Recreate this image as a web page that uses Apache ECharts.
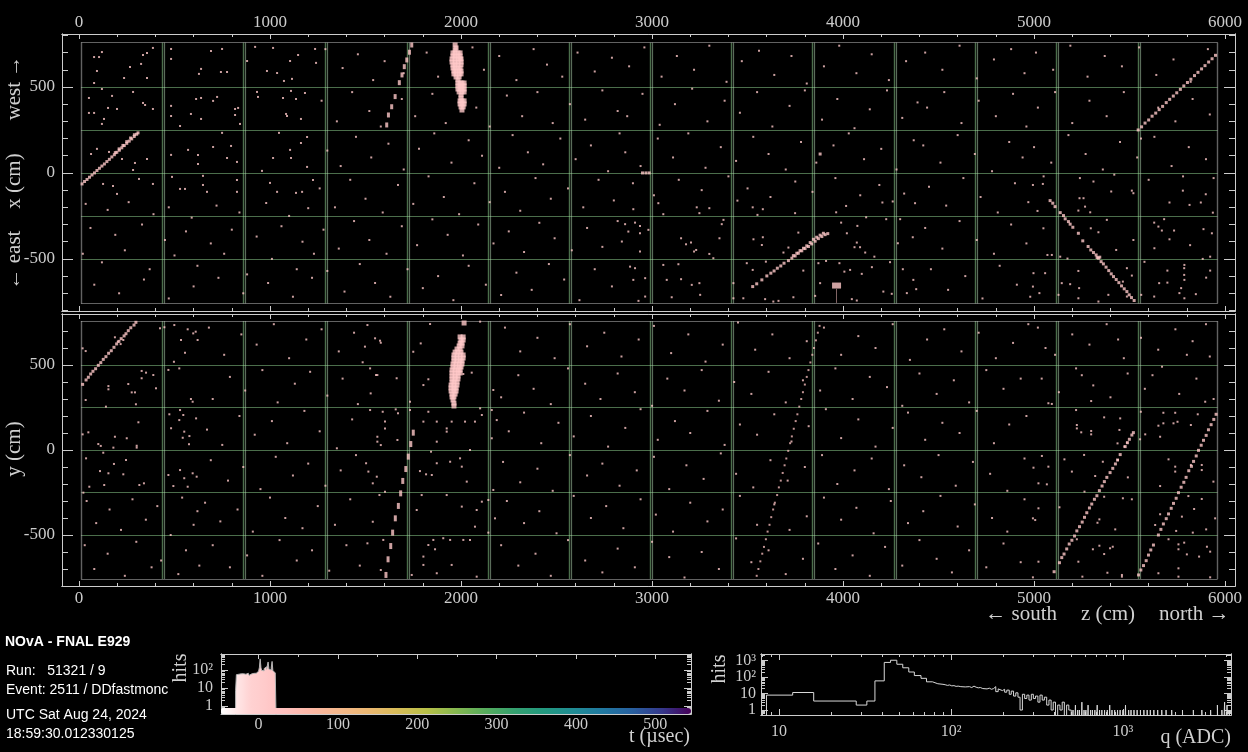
<!DOCTYPE html>
<html><head><meta charset="utf-8">
<script src="https://cdn.jsdelivr.net/npm/echarts@6/dist/echarts.min.js"></script>
<style>html,body{margin:0;padding:0;background:#000;}#c{width:1248px;height:752px;}</style>
</head><body><div id="c"></div>
<script>
// ================= DATA =================
// axis tick values
const zTickLabels = [0,1000,2000,3000,4000,5000,6000];
const xyTickLabels = [-500,0,500];
const tTickLabels = [0,100,200,300,400,500];
// detector geometry (cm)
const boxZ = [10, 5961];
const boxHalf = 759;
const planeBoundaryZ = [435,859,1288,1717,2141,2566,2990,3414,3838,4267,4691,5116,5545];
const cellGridLines = [-500,-250,0,250,500];

// ---- top view (x vs z): noise hits ----
const noiseXZ = [
[120,703],[79,674],[105,674],[335,686],[356,698],[387,727],[325,634],[267,616],[94,593],[236,552],[356,552],[79,523],[120,488],[283,471],[52,436],[173,448],[335,407],[346,395],[152,378],[199,372],[387,372],[52,349],[79,349],[131,314],[120,285],[94,140],[63,110],[157,122],[225,81],[293,58],[356,81],[283,17],[178,-76],[126,-64],[199,-122],[387,-64],[314,-35],
[482,721],[691,709],[749,721],[482,663],[639,605],[628,576],[743,587],[775,587],[613,430],[639,436],[702,419],[723,442],[482,390],[817,372],[833,378],[817,337],[586,343],[482,331],[639,314],[529,273],[843,285],[749,233],[796,157],[702,151],[482,105],[571,134],[623,105],[775,87],[827,64],[623,52],[649,-17],[487,-23],[529,-93],[555,-93],[649,-70],[670,-110],[827,-110],[827,-41],
[922,733],[1016,727],[1147,686],[1236,721],[880,651],[1105,651],[1241,640],[984,593],[1037,581],[1115,547],[1073,535],[932,471],[937,442],[1068,436],[1110,477],[1183,465],[1136,430],[1084,343],[1089,331],[1162,314],[1047,233],[1194,209],[1105,134],[1162,174],[1016,87],[1110,87],[1194,35],[958,12],[1000,-58],[1037,-110],[1136,-116],[1168,-110],[1225,-41],
[3033,-176],[3234,-200],[3300,-205],[3248,-234],[2902,-211],[3447,-161],[3527,-200],[3580,-211],[3552,-244],[3749,-234],[3964,-229],[4016,-192],[4206,-172],[4260,-166],[4377,-176],[2859,-298],[2911,-289],[2937,-308],[2876,-341],[2937,-351],[2981,-331],[3059,-240],[3365,-298],[3152,-380],[3204,-405],[3178,-415],[3231,-448],[3220,-457],[3300,-471],[3353,-380],[3321,-496],[2937,-457],[2842,-399],[3531,-386],[3580,-374],[3575,-419],[3766,-347],[3714,-434],[3688,-463],[4020,-351],[3990,-289],[4075,-308],[4121,-258],[4226,-269],[4299,-269],[4072,-405],[4060,-432],[4089,-432],[4116,-463],[4164,-487],[4287,-409],[4365,-374],
[2911,-554],[2885,-545],[2902,-622],[2964,-612],[3059,-535],[3138,-531],[3077,-622],[3152,-618],[3208,-651],[3248,-641],[3252,-709],[3103,-723],[2964,-719],[2929,-744],[3496,-525],[3596,-516],[3527,-564],[3740,-723],[3792,-568],[3871,-525],[3911,-512],[3981,-525],[4037,-564],[4098,-587],[4151,-548],[4246,-519],[4313,-560],[4368,-622],[4383,-676],[4334,-699],[4255,-703],[4211,-690],[4046,-734],[4072,-742],[4007,-574],[3880,-641],[3854,-715],[3635,-748],[3662,-744],[3592,-734],[3478,-729],[3426,-729],[3374,-273],[3426,-641],
[4994,-70],[5046,-64],[5311,-50],[5512,-103],[5520,-118],[5404,-108],[5238,-147],[5259,-147],[5232,-219],[5294,-229],[5267,-196],[5018,-221],[5049,-322],[5297,-322],[5337,-345],[5381,-273],[5430,-448],[5520,-390],[5486,-554],[5512,-597],[5232,-570],[5145,-641],[5189,-647],[5236,-670],[5232,-729],[5337,-748],[5389,-709],[5486,-719],[5465,-632],[5070,-477],[5093,-477],[5137,-487],[5175,-498],[4997,-583],[5058,-583],[5028,-699],[4994,-661],[5128,-709],
[5629,-289],[5651,-312],[5681,-269],[5733,-335],[5669,-335],[5709,-386],[5630,-438],[5817,-420],[5779,-103],[5899,-124],[5936,-231],[5887,-327],[5931,-351],[5873,-172],[5814,-186],[5709,-172],[5578,-517],[5922,-487],[5883,-500],[5787,-535],[5786,-554],[5786,-593],[5787,-622],[5698,-568],[5901,-609],[5922,-568],[5698,-638],[5655,-641],[5770,-670],[5761,-699],[5787,-729],[5847,-705],[5629,-719],[5561,-709],
[35,-180],[150,-215],[260,-170],[390,-240],[470,-200],[590,-260],[720,-190],[840,-230],[980,-175],[1100,-250],[1200,-205],[60,-320],[190,-360],[330,-300],[450,-390],[560,-340],[690,-410],[800,-330],[930,-370],[1060,-310],[1170,-400],[20,-470],[120,-520],[240,-450],[370,-560],[500,-480],[620,-540],[760,-470],[880,-590],[1010,-500],[1140,-560],[1230,-470],[80,-650],[210,-700],[340,-620],[470,-730],[600,-660],[730,-610],[860,-700],[990,-640],[1120,-720],[1220,-610],
[1290,720],[1380,610],[1460,690],[1540,540],[1600,650],[1700,580],[1820,700],[1880,560],[2060,730],[2120,600],[2200,680],[2290,540],[2380,720],[2450,630],[2530,560],[2610,700],[2700,590],[2790,670],
[1270,420],[1350,300],[1430,470],[1520,360],[1580,270],[1690,430],[1760,330],[1850,460],[1920,290],[2080,380],[2150,270],[2240,450],[2320,330],[2400,470],[2480,290],[2570,400],[2650,310],[2740,480],[2820,360],
[1300,130],[1370,40],[1450,210],[1530,90],[1620,170],[1700,20],[1780,140],[1860,230],[1950,60],[2040,190],[2110,100],[2200,30],[2270,220],[2350,120],[2430,50],[2520,200],[2600,80],[2680,160],[2770,10],[2830,230],
[1260,-90],[1340,-200],[1420,-40],[1500,-150],[1590,-230],[1670,-70],[1750,-180],[1830,-20],[1910,-140],[1990,-240],[2070,-60],[2150,-170],[2230,-110],[2310,-220],[2390,-30],[2470,-150],[2560,-90],[2640,-200],[2720,-40],[2800,-160],
[1280,-330],[1360,-440],[1440,-280],[1520,-390],[1610,-470],[1690,-310],[1770,-420],[1850,-270],[1930,-360],[2010,-480],[2090,-300],[2170,-410],[2250,-340],[2330,-460],[2410,-290],[2490,-380],[2580,-450],[2660,-320],[2740,-430],[2820,-280],
[1300,-570],[1390,-690],[1470,-530],[1550,-640],[1630,-720],[1720,-560],[1800,-670],[1880,-600],[1960,-740],[2040,-540],[2130,-650],[2210,-710],[2290,-580],[2370,-680],[2460,-530],[2540,-620],[2620,-740],[2700,-560],[2790,-660],
[2880,620],[2960,730],[3050,560],[3130,680],[3220,600],[3300,740],[3390,530],[3470,650],[3560,710],[3640,570],[3730,680],[3810,520],[3900,620],[3980,740],[4070,580],[4150,690],[4240,540],[4330,650],
[2870,330],[2950,460],[3040,280],[3120,400],[3210,490],[3290,300],[3380,420],[3460,350],[3550,470],[3630,270],[3720,390],[3800,480],[3890,310],[3970,430],[4060,260],[4140,370],[4230,480],[4310,320],[4390,410],
[2860,120],[2940,40],[3030,200],[3110,90],[3190,230],[3280,30],[3360,150],[3440,70],[3530,210],[3610,110],[3700,20],[3780,180],[3860,60],[3950,160],[4030,230],[4110,80],[4200,140],[4280,20],[4370,190],
[2900,-60],[3010,-130],[3140,-40],[3260,-100],[3400,-20],[3500,-90],[3620,-140],[3750,-50],[3840,-110],[3960,-30],[4090,-130],[4190,-70],[4320,-120],
[4430,700],[4520,600],[4610,740],[4700,550],[4790,660],[4880,720],[4950,580],[4440,380],[4530,470],[4620,290],[4710,420],[4800,330],[4890,460],[4960,270],[4420,160],[4510,60],[4600,220],[4690,110],[4780,10],[4870,180],[4940,90],[4450,-80],[4540,-190],[4630,-30],[4720,-140],[4810,-230],[4900,-60],[4970,-170],[4430,-320],[4520,-440],[4610,-280],[4700,-390],[4790,-470],[4880,-300],[4960,-410],[4460,-560],[4550,-680],[4640,-600],[4730,-730],[4820,-540],[4910,-650],[4980,-720],
[5010,700],[5100,600],[5190,740],[5280,560],[5370,680],[5460,620],[5550,730],[5640,570],[5730,660],[5820,530],[5910,720],[5020,380],[5110,470],[5200,290],[5290,420],[5380,330],[5470,470],[5560,200],[5650,380],[5740,300],[5830,430],[5920,340],[5000,150],[5090,60],[5180,220],[5270,110],[5360,20],[5450,180],[5540,90],[5630,210],[5720,40],[5810,150],[5900,80],[5050,-20],[5240,-30],[5420,-10],[5600,-40],[5780,-20],[5940,-30]
];
// ---- top view tracks ----
const trackXZ = [
[16,-64],[29,-50],[42,-38],[55,-25],[68,-12],[81,0],[94,14],[107,27],[120,40],[133,52],[146,66],[159,79],[172,93],[185,106],[198,120],[211,132],[224,146],[237,159],[250,172],[263,185],[276,198],[289,212],[302,225],[309,233],[190,118],[210,140],[230,160],[250,182],[270,203],[290,222],
[2950,0],[2968,0],[2985,0],[3880,110],
[3527,-661],[3548,-645],[3575,-622],[3601,-599],[3622,-583],[3639,-570],[3656,-554],[3674,-541],[3691,-525],[3714,-510],[3732,-496],[3749,-483],[3766,-467],[3784,-453],[3801,-440],[3819,-428],[3836,-413],[3854,-397],[3871,-382],[3889,-370],[3906,-359],[3920,-353],[3845,-386],[3862,-374],[3880,-362],[3897,-351],[3828,-405],[3810,-424],[3793,-438],[3775,-452],[3758,-467],[3740,-481],
[5084,-161],[5098,-176],[5110,-196],[5137,-231],[5154,-248],[5163,-267],[5180,-283],[5189,-298],[5203,-316],[5232,-351],[5255,-395],[5283,-428],[5297,-448],[5311,-463],[5325,-477],[5337,-496],[5351,-516],[5363,-529],[5377,-548],[5391,-568],[5404,-587],[5416,-603],[5430,-620],[5444,-638],[5458,-657],[5472,-674],[5486,-690],[5498,-709],[5510,-725],[5524,-742],[5330,-492],[5344,-490],
[5545,250],[5563,268],[5581,290],[5600,308],[5618,330],[5637,348],[5655,368],[5673,387],[5692,409],[5710,428],[5729,447],[5747,466],[5766,486],[5784,506],[5803,526],[5821,545],[5840,566],[5858,585],[5877,605],[5895,624],[5914,645],[5932,664],[5950,684]
];
const tallTrackXZ = [[1611,279],[1620,337],[1637,385],[1655,444],[1677,525],[1691,570],[1703,618],[1716,657],[1730,702],[1742,744]];
const blobXZ = [
[1969,744],[1974,727],[1969,715],
[1958,698],[1969,698],[1984,698],[1995,698],[1958,680],[1969,680],[1984,680],[1995,680],
[1953,663],[1969,663],[1984,663],[1995,663],[2000,663],[1953,645],[1969,645],[1984,645],[2000,645],
[1958,628],[1969,628],[1984,628],[2000,628],[1958,610],[1969,610],[1984,610],[1995,610],
[1963,593],[1974,593],[1990,593],[2000,593],[1963,576],[1974,576],[1990,576],[2000,576],[1974,558],[1990,558],[1984,541],
[1984,523],[1995,523],[2005,523],[2016,523],[1984,506],[1995,506],[2005,506],[2016,506],[1984,488],[1995,488],[2005,488],[2016,488],[1990,471],[2005,471],[2016,471],
[2000,453],[2000,436],[1995,419],[2005,419],[2016,419],[1995,401],[2005,401],[2016,401],[2000,384],[2011,384],[2005,366]
];
const squareXZ = [[3966,-655]];
const stubXZ = [[3967,-674],[3967,-756]];

// ---- bottom view (y vs z): noise hits ----
const noiseYZ = [
[19,598],[35,582],[188,663],[203,637],[218,623],[232,647],[424,716],[499,735],[447,722],[534,647],[569,710],[598,686],[611,696],[555,572],[621,647],[468,471],[497,519],[525,480],[328,465],[328,422],[351,455],[389,441],[403,363],[154,376],[154,357],[258,388],[276,339],[293,339],[35,294],[141,255],[298,269],[473,210],[529,235],[546,206],[525,176],[613,186],[551,108],[482,128],[595,284],[586,300],[311,163],[188,78],[250,69],[49,104],[19,92],[302,25],[302,14],[101,35],[114,24],[180,14],[127,-16],[576,34],[543,72],[578,82],[595,-137],[616,-157],[529,-118],[551,-166],[569,-216],[494,-212],[468,-147],[340,-196],[316,-206],[246,-59],[183,-82],[37,-49],[110,-124],[154,-137],[232,-143],[54,-216],[23,-251],[132,-206],
[1510,735],[1497,608],[1576,643],[1580,631],[1550,657],[1524,480],[1555,441],[1562,441],[1485,516],[1663,422],[1527,333],[1524,235],[1590,225],[1658,239],[1670,216],[1602,167],[1602,127],[1562,78],[1562,49],[1580,29],[1667,59],[1503,-78],[1515,-127],[1559,-157],[1538,-196],[1602,-245],[1573,-265],[1538,-422],[1510,-549],[1593,-529],[1580,-706],[1750,578],[1789,627],[1838,741],[2100,755],[2056,455],[2012,447],[1829,416],[1803,382],[1733,284],[1733,235],[1829,225],[1873,167],[1803,167],[1873,49],[1925,127],[1925,108],[1951,167],[2073,167],[2021,167],[2100,245],[2169,353],[2161,235],[2187,176],[2109,206],[2047,0],[1995,-49],[1843,-10],[1873,-78],[1943,-69],[2004,-98],[2030,-186],[1847,-147],[1785,-124],[1817,-143],[1794,-265],[1925,-265],[1768,-353],[2004,-333],[2082,-353],[2143,-294],[2169,-235],[2109,-304],[2178,-402],[2073,-451],[2143,-486],[1907,-519],[1855,-529],[1829,-559],[1864,-584],[1943,-529],[2012,-529],[2047,-529],[1803,-627],[1803,-676],[1951,-676],[1742,-735],[1873,-725],[2082,-745],[2161,69],
[5075,275],[5093,271],[5299,288],[5220,235],[5367,192],[5451,186],[5247,104],[5299,112],[5299,92],[5224,147],[5224,127],[5447,118],[5437,39],[5486,43],[5473,20],[5041,-35],[5159,-55],[4997,-104],[5075,-98],[5198,-127],[5262,-29],[5320,-153],[5360,-69],[5439,-59],[5491,-161],[5023,-196],[5067,-202],[5264,-245],[5367,-275],[5465,-284],[5512,-290],[5023,-343],[4994,-402],[5006,-412],[5133,-337],[5342,-408],[5332,-428],[5425,-467],[5308,-584],[5342,-563],[5398,-578],[5412,-569],[5367,-612],[5232,-657],[5023,-657],[5384,-722],[5460,-735],[5460,-745],[5253,-745],[4994,-749],[5224,-525],
[5559,225],[5677,219],[5739,219],[5651,143],[5677,157],[5730,157],[5751,166],[5821,147],[5896,284],[5857,210],[5660,78],[5582,92],[5555,63],[5704,-55],[5739,-98],[5739,-127],[5878,-88],[5878,-118],[5821,-88],[5939,-186],[5660,-212],[5808,-271],[5878,-288],[5838,-347],[5948,-402],[5774,-392],[5660,-378],[5634,-441],[5744,-476],[5831,-486],[5901,-467],[5704,-525],[5756,-555],[5786,-545],[5800,-614],[5756,-584],[5905,-569],[5922,-598],[5864,-627],[5756,-696],[5651,-725],[5756,-745],[5922,-749],
[40,-300],[160,-350],[280,-290],[410,-330],[540,-280],[620,-360],[90,-430],[220,-470],[350,-410],[480,-500],[600,-440],[30,-560],[150,-610],[300,-540],[430,-650],[560,-590],[80,-700],[240,-740],[380,-690],[520,-730],[630,-680],
[680,720],[760,560],[850,680],[930,620],[1020,740],[1100,540],[1190,650],[1270,710],[1360,580],[1440,690],[700,300],[790,430],[870,350],[960,470],[1040,280],[1130,390],[1210,460],[1300,320],[1380,420],[1460,270],[670,120],[750,30],[840,200],[920,90],[1010,170],[1090,40],[1180,230],[1260,110],[1350,10],[1430,180],[690,-60],[780,-180],[860,-100],[950,-230],[1030,-40],[1120,-150],[1200,-80],[1290,-210],[1370,-120],[1450,-30],[660,-310],[740,-420],[830,-350],[910,-480],[1000,-280],[1080,-400],[1170,-460],[1250,-330],[1340,-440],[1420,-290],[700,-560],[790,-690],[880,-620],[960,-740],[1050,-530],[1140,-650],[1220,-590],[1310,-710],[1400,-560],[1470,-680],
[2230,720],[2310,580],[2400,660],[2490,540],[2570,740],[2660,610],[2750,690],[2840,550],[2930,650],[3010,730],[3100,570],[3190,680],[3280,520],[3370,620],[3450,750],[3540,590],[3630,680],[3720,540],[3810,640],[3900,720],[3990,560],[4080,670],[4170,600],[4260,740],[4350,530],[4440,650],[4530,710],[4620,580],[4710,690],[4800,540],[4890,630],[4970,740],
[2210,310],[2300,440],[2380,360],[2470,270],[2560,480],[2650,390],[2730,300],[2820,450],[2910,340],[3000,260],[3080,420],[3170,350],[3260,470],[3350,290],[3430,400],[3520,330],[3610,460],[3700,280],[3790,410],[3880,350],[3960,480],[4050,300],[4140,430],[4230,370],[4310,260],[4400,450],[4490,330],[4580,410],[4660,280],[4750,470],[4840,360],[4930,420],
[2250,110],[2330,220],[2420,40],[2510,160],[2590,80],[2680,200],[2770,20],[2860,130],[2940,240],[3030,60],[3120,170],[3200,100],[3290,230],[3380,30],[3460,150],[3550,90],[3640,210],[3730,50],[3820,140],[3910,240],[3990,70],[4080,180],[4170,20],[4260,130],[4340,220],[4430,60],[4520,160],[4610,100],[4700,230],[4790,40],[4870,150],[4960,200],
[2220,-70],[2310,-190],[2400,-110],[2480,-240],[2570,-30],[2660,-150],[2740,-80],[2830,-210],[2920,-120],[3010,-40],[3090,-230],[3180,-90],[3270,-170],[3360,-20],[3440,-140],[3530,-220],[3620,-60],[3710,-180],[3800,-100],[3890,-30],[3970,-200],[4060,-120],[4150,-50],[4240,-230],[4320,-90],[4410,-160],[4500,-30],[4590,-210],[4680,-70],[4770,-140],[4860,-240],[4950,-50],
[2240,-300],[2330,-430],[2410,-360],[2500,-490],[2590,-270],[2680,-400],[2760,-330],[2850,-460],[2940,-290],[3020,-380],[3110,-480],[3200,-310],[3290,-420],[3370,-350],[3460,-270],[3550,-440],[3640,-320],[3720,-470],[3810,-390],[3900,-280],[3990,-410],[4070,-340],[4160,-490],[4250,-300],[4340,-430],[4420,-360],[4510,-270],[4600,-450],[4690,-320],[4780,-400],[4860,-480],[4950,-290],
[2210,-560],[2300,-680],[2390,-610],[2470,-740],[2560,-530],[2650,-650],[2740,-720],[2820,-580],[2910,-690],[3000,-540],[3090,-630],[3170,-750],[3260,-600],[3350,-700],[3440,-520],[3520,-660],[3610,-590],[3700,-730],[3790,-640],[3870,-550],[3960,-700],[4050,-620],[4140,-740],[4220,-570],[4310,-680],[4400,-530],[4490,-640],[4570,-720],[4660,-590],[4750,-690],[4840,-550],[4930,-660],
[5020,720],[5110,560],[5200,680],[5290,620],[5380,740],[5470,540],[5560,660],[5650,590],[5740,710],[5830,640],[5920,550],[5040,420],[5130,340],[5220,480],[5310,380],[5400,310],[5490,450],[5580,360],[5670,490],[5760,330],[5850,420],[5940,300],[5060,600],[5250,440],[5440,650],[5620,440],[5800,560],[5900,740]
];
// ---- bottom view tracks ----
const trackYZ = [
[19,386],[37,412],[49,428],[61,447],[73,463],[87,478],[101,498],[114,514],[127,533],[141,549],[155,569],[169,584],[183,604],[197,624],[209,639],[221,655],[236,671],[246,684],[258,702],[271,719],[288,735],[298,751],
[5105,-716],[5133,-663],[5145,-633],[5157,-612],[5171,-582],[5184,-553],[5198,-531],[5212,-506],[5224,-476],[5238,-451],[5252,-424],[5264,-396],[5276,-369],[5290,-341],[5302,-318],[5316,-290],[5329,-269],[5342,-239],[5356,-212],[5368,-186],[5381,-161],[5398,-133],[5412,-108],[5426,-82],[5437,-59],[5451,-27],[5477,20],[5489,43],[5499,63],[5512,88],[5520,102],
[5547,-735],[5559,-706],[5573,-680],[5587,-651],[5599,-618],[5611,-588],[5625,-559],[5651,-500],[5664,-467],[5677,-435],[5692,-404],[5704,-376],[5718,-343],[5730,-314],[5744,-284],[5756,-251],[5770,-219],[5784,-190],[5796,-161],[5810,-122],[5824,-96],[5835,-67],[5849,-35],[5861,-2],[5875,28],[5887,57],[5901,86],[5913,119],[5927,149],[5941,180],[5953,210]
];
const tallTrackYZ = [[1607,-735],[1618,-643],[1632,-565],[1642,-486],[1656,-402],[1672,-329],[1684,-255],[1695,-182],[1711,-112],[1724,-39],[1737,35],[1750,102]];
const faintTrackYZ = [[3548,-740],[3557,-700],[3567,-655],[3577,-610],[3586,-570],[3596,-525],[3605,-480],[3615,-440],[3624,-395],[3634,-350],[3643,-310],[3655,-265],[3664,-220],[3674,-180],[3684,-135],[3694,-90],[3703,-50],[3713,-5],[3723,40],[3732,80],[3742,125],[3752,170],[3761,210],[3771,255],[3781,300],[3790,340],[3800,385],[3810,430],[3819,470],[3829,515],[3839,560],[3848,600],[3858,645],[3868,690],[3877,730]];
const blobYZ = [
[2016,747],[1995,665],[2011,665],[2000,647],[2011,647],[1995,629],[2005,629],[1990,612],[2005,612],[1979,594],[1995,594],[1969,576],[1984,576],[2000,576],
[1963,559],[1979,559],[1995,559],[2011,559],[1963,541],[1979,541],[1995,541],[2011,541],[1963,524],[1979,524],[1995,524],[2005,524],[1958,506],[1974,506],[1990,506],[2005,506],[1958,488],[1974,488],[1990,488],[2000,488],
[1953,471],[1969,471],[1984,471],[1995,471],[1953,453],[1969,453],[1984,453],[1995,453],[1953,435],[1969,435],[1984,435],[1953,418],[1969,418],[1984,418],[1953,400],[1963,400],[1979,400],
[1948,382],[1963,382],[1979,382],[1948,365],[1963,365],[1974,365],[1948,347],[1963,347],[1974,347],[1953,329],[1969,329],[1953,312],[1963,312],[1958,294],[1963,276],[1963,259]
];

// ---- hit-time histogram (1 usec bins) ----
const tBinStart = -29, tBinWidth = 1;
const tCounts = [7,55,60,58,62,57,61,64,59,62,60,65,58,63,60,66,61,50,63,60,67,62,65,60,70,66,75,72,85,95,140,415,130,95,105,90,120,100,150,110,130,280,110,95,100,140,300,90,75,70,62,55];

// ---- charge histogram ----
const qEdges = [8.45,12.0,15.9,28.1,32.4,36.1,40.9,44.5,48.4,52.4,56.8,61.2,66.9,72.0,78.0,83.8,89.8,92.5,95.3,98.2,101,104,107,110,114,117,121,124,128,132,136,140,144,148,153,157,162,167,172,177,182,188,193,199,205,211,218,224,231,238,245,252,260,268,276,284,293,301,310,320,329,339,349,360,371,382,393,405,417,430,443,456,470,484,500];
const qCounts = [8,11.5,3.5,2,3.5,58,760,1030,590,360,200,122,83,51,39,36,34,31,33,29,30,27,28,26,27,25,24,26,23,28,24,22,23,20,22,19,21,18,20,26,13,19,15,18,12,16,9,14,7,11,6,1,9,5,8,4,9,5,7,3,8,4,6,2,4,1,3,0,2,1,3,0,2,1];
const qSpikes = [515,532,548,561,580,597,612,630,652,668,690,712,735,758,786,815,842,868,900,935,968,1005,1040,1085,1120,1165,1215,1270,1330,1390,1450,1520,1600,1690,1790,1930,2230,2580,2890,3250,3560,3780,3920,4050,4180];
const qSpikeCounts = [1,2,1,1,3,1,1,2,1,1,1,2,1,1,1,1,2,1,1,1,1,1,2,1,1,1,1,1,1,1,1,1,1,1,1,1,1,1,1,1,2,1,3,2,1];

// time colour palette (white -> pink -> orange -> green -> blue -> purple)
const tPalette = ['#ffffff','#ffd2d2','#ffc2c2','#fdb8a8','#f5b88c','#ecb872','#d8bc58','#b8c048','#86b850','#56ac5c','#34a070','#22987f','#208c94','#2078a0','#2860a0','#34388c','#460058'];

// ================= LAYOUT / STYLE =================
const AX = '#cccccc', GREEN = '#96dc96', GREEN2 = '#b4d8b4', PINK = '#ffc8c8', BOXC = '#c4c4c4';
const SERIF = '"Liberation Serif","DejaVu Serif",serif';
const SANS = '"Liberation Sans",Arial,sans-serif';
const Z_MIN = -89, Z_MAX = 6052;
const XV_MIN = -803, XV_MAX = 808;
const YV_MIN = -800, YV_MAX = 800;
const T_MIN = -47.4, T_MAX = 545.1, TY_MIN = -0.444, TY_MAX = 2.889;
const QX_MIN = 0.895, QX_MAX = 3.628, QY_MIN = -0.30, QY_MAX = 3.39;

function steps(a, b, s) { const r = []; for (let v = a; v <= b + 1e-9; v += s) r.push(v); return r; }
function logMinor(lo, hi) { const r = []; for (let d = -1; d <= 4; d++) for (let m = 2; m <= 9; m++) { const v = d + Math.log10(m); if (v > lo && v < hi) r.push(v); } return r; }
const pow10 = v => ['1','10','10\u00b2','10\u00b3'][Math.round(v)];
const plain = v => String(Math.round(v));

function axis(grid, pos, min, max, ticks, len, lab) {
  return {
    type: 'value', gridIndex: grid, position: pos, min: min, max: max,
    axisLine: { show: true, onZero: false, lineStyle: { color: AX, width: 1 } },
    axisTick: ticks ? { show: true, inside: true, length: len, customValues: ticks, lineStyle: { color: AX, width: 1 } } : { show: false },
    axisLabel: lab ? { show: true, customValues: lab.values, color: AX, fontFamily: SERIF, fontSize: lab.size, margin: lab.margin, formatter: lab.fmt || plain } : { show: false },
    splitLine: { show: false }, minorTick: { show: false }
  };
}
const zMinor = steps(0, 6000, 200), xyMinor = steps(-800, 800, 100), tMinor = steps(-50, 550, 50).filter(v => v > T_MIN);
const tyMinor = logMinor(TY_MIN, TY_MAX), qxMinor = logMinor(QX_MIN, QX_MAX), qyMinor = logMinor(QY_MIN, QY_MAX);

const xAxes = [
  axis(0, 'top', Z_MIN, Z_MAX, zTickLabels, 5, { values: zTickLabels, size: 17, margin: 3 }),
  axis(0, 'top', Z_MIN, Z_MAX, zMinor, 3),
  axis(0, 'bottom', Z_MIN, Z_MAX, zTickLabels, 5),
  axis(0, 'bottom', Z_MIN, Z_MAX, zMinor, 3),
  axis(1, 'bottom', Z_MIN, Z_MAX, zTickLabels, 5, { values: zTickLabels, size: 17, margin: 4 }),
  axis(1, 'bottom', Z_MIN, Z_MAX, zMinor, 3),
  axis(1, 'top', Z_MIN, Z_MAX, zTickLabels, 5),
  axis(1, 'top', Z_MIN, Z_MAX, zMinor, 3),
  axis(2, 'bottom', T_MIN, T_MAX, null, 0, { values: tTickLabels, size: 16, margin: 3 }),
  axis(2, 'top', T_MIN, T_MAX, tTickLabels, 5),
  axis(2, 'top', T_MIN, T_MAX, tMinor, 3),
  axis(3, 'bottom', QX_MIN, QX_MAX, [1,2,3], 6, { values: [1,2,3], size: 16, margin: 9, fmt: pow10 }),
  axis(3, 'bottom', QX_MIN, QX_MAX, qxMinor, 3),
  axis(3, 'top', QX_MIN, QX_MAX, [1,2,3], 6),
  axis(3, 'top', QX_MIN, QX_MAX, qxMinor, 3)
];
const yAxes = [
  axis(0, 'left', XV_MIN, XV_MAX, xyTickLabels, 11, { values: xyTickLabels, size: 17, margin: 7 }),
  axis(0, 'left', XV_MIN, XV_MAX, xyMinor, 6),
  axis(0, 'right', XV_MIN, XV_MAX, xyTickLabels, 11),
  axis(0, 'right', XV_MIN, XV_MAX, xyMinor, 6),
  axis(1, 'left', YV_MIN, YV_MAX, xyTickLabels, 11, { values: xyTickLabels, size: 17, margin: 7 }),
  axis(1, 'left', YV_MIN, YV_MAX, xyMinor, 6),
  axis(1, 'right', YV_MIN, YV_MAX, xyTickLabels, 11),
  axis(1, 'right', YV_MIN, YV_MAX, xyMinor, 6),
  axis(2, 'left', TY_MIN, TY_MAX, [0,1,2], 7, { values: [0,1,2], size: 16, margin: 8, fmt: pow10 }),
  axis(2, 'left', TY_MIN, TY_MAX, tyMinor, 4),
  axis(2, 'right', TY_MIN, TY_MAX, [0,1,2], 7),
  axis(2, 'right', TY_MIN, TY_MAX, tyMinor, 4),
  axis(3, 'left', QY_MIN, QY_MAX, [0,1,2,3], 7, { values: [0,1,2,3], size: 16, margin: 5, fmt: pow10 }),
  axis(3, 'left', QY_MIN, QY_MAX, qyMinor, 4),
  axis(3, 'right', QY_MIN, QY_MAX, [0,1,2,3], 7),
  axis(3, 'right', QY_MIN, QY_MAX, qyMinor, 4)
];

function detectorLines(extra) {
  const d = [], z0 = boxZ[0], z1 = boxZ[1], h = boxHalf;
  cellGridLines.forEach(v => d.push({ coords: [[z0, v], [z1, v]], lineStyle: { color: GREEN, width: 1.2 } }));
  planeBoundaryZ.forEach(z => {
    d.push({ coords: [[z, -h], [z, h]], lineStyle: { color: GREEN, width: 1.4 } });
    d.push({ coords: [[z + 10, -h], [z + 10, h]], lineStyle: { color: GREEN2, width: 1.2 } });
  });
  d.push({ coords: [[z0, -h], [z1, -h]], lineStyle: { color: BOXC, width: 1.2 } });
  d.push({ coords: [[z0, h], [z1, h]], lineStyle: { color: BOXC, width: 1.2 } });
  d.push({ coords: [[z0, -h], [z0, h]], lineStyle: { color: BOXC, width: 1.4 } });
  d.push({ coords: [[z1, -h], [z1, h]], lineStyle: { color: BOXC, width: 1.4 } });
  (extra || []).forEach(e => d.push(e));
  return d;
}
function scat(xi, yi, data, size, color, z) {
  return { type: 'scatter', xAxisIndex: xi, yAxisIndex: yi, data: data, symbol: 'rect', symbolSize: size,
    itemStyle: { color: color }, silent: true, z: z || 3, animation: false };
}

// histogram line data
const L = v => v > 0 ? Math.log10(v) : -3;
const tData = [[tBinStart, -3]];
tCounts.forEach((c, i) => tData.push([tBinStart + i * tBinWidth, L(c)]));
const tEnd = tBinStart + tCounts.length * tBinWidth;
tData.push([tEnd, L(tCounts[tCounts.length - 1])]);
tData.push([tEnd, -3]);

const qData = [[Math.log10(qEdges[0]), -3]];
qCounts.forEach((c, i) => qData.push([Math.log10(qEdges[i]), L(c)]));
qData.push([Math.log10(qEdges[qEdges.length - 1]), -3]);
qSpikes.forEach((q, i) => {
  qData.push([Math.log10(q) - 0.0025, L(qSpikeCounts[i])]);
  qData.push([Math.log10(q) + 0.0025, -3]);
});

const series = [
  { type: 'lines', coordinateSystem: 'cartesian2d', xAxisIndex: 0, yAxisIndex: 0, silent: true, z: 1,
    data: detectorLines([{ coords: stubXZ, lineStyle: { color: PINK, width: 1 } }]) },
  scat(0, 0, noiseXZ, 2, PINK, 2),
  scat(0, 0, trackXZ, 3, PINK),
  scat(0, 0, tallTrackXZ, [3, 5], PINK),
  scat(0, 0, blobXZ, [5, 5], PINK),
  scat(0, 0, squareXZ, [9, 6], PINK),
  { type: 'lines', coordinateSystem: 'cartesian2d', xAxisIndex: 4, yAxisIndex: 4, silent: true, z: 1, data: detectorLines() },
  scat(4, 4, noiseYZ, 2, PINK, 2),
  scat(4, 4, trackYZ, 3, PINK),
  scat(4, 4, tallTrackYZ, [3, 6], PINK),
  scat(4, 4, blobYZ, [5, 5], PINK),
  scat(4, 4, faintTrackYZ, 2, '#f0b8b8'),
  // time histogram fill (coloured by time through visualMap) and outline
  { type: 'line', xAxisIndex: 8, yAxisIndex: 8, data: tData, step: 'end', symbol: 'none', silent: true, z: 2,
    lineStyle: { width: 0, opacity: 0 }, areaStyle: { origin: 'start', opacity: 1 } },
  { type: 'line', xAxisIndex: 8, yAxisIndex: 8, data: tData, step: 'end', symbol: 'none', silent: true, z: 3,
    lineStyle: { color: '#b4b4b4', width: 1 } },
  { type: 'line', xAxisIndex: 11, yAxisIndex: 12, data: qData, step: 'end', symbol: 'none', silent: true, z: 3,
    lineStyle: { color: '#d8d8d8', width: 1 } }
];

const txt = (x, y, text, font, extra) => Object.assign({ type: 'text', x: x, y: y, silent: true,
  style: Object.assign({ text: text, fill: '#d0d0d0', font: font, align: 'left', verticalAlign: 'middle' }, (extra && extra.style) || {}) },
  extra && extra.rotation ? { rotation: extra.rotation } : {});
const R90 = Math.PI / 2;
const graphic = [
  txt(5, 642, 'NOvA - FNAL E929', 'bold 14px ' + SANS, { style: { fill: '#ffffff' } }),
  txt(6, 671, 'Run:   51321 / 9', '14px ' + SANS, { style: { fill: '#ffffff' } }),
  txt(6, 690, 'Event: 2511 / DDfastmonc', '14px ' + SANS, { style: { fill: '#ffffff' } }),
  txt(6, 715, 'UTC Sat Aug 24, 2024', '14px ' + SANS, { style: { fill: '#ffffff' } }),
  txt(6, 734, '18:59:30.012330125', '14px ' + SANS, { style: { fill: '#ffffff' } }),
  txt(14, 88, 'west \u2192', '21px ' + SERIF, { rotation: R90, style: { align: 'center' } }),
  txt(14, 181, 'x (cm)', '21px ' + SERIF, { rotation: R90, style: { align: 'center' } }),
  txt(14, 260, '\u2190 east', '21px ' + SERIF, { rotation: R90, style: { align: 'center' } }),
  txt(14, 449, 'y (cm)', '21px ' + SERIF, { rotation: R90, style: { align: 'center' } }),
  txt(1057, 614, '\u2190 south', '21px ' + SERIF, { style: { align: 'right' } }),
  txt(1108, 614, 'z (cm)', '21px ' + SERIF, { style: { align: 'center' } }),
  txt(1159, 614, 'north \u2192', '21px ' + SERIF, { style: { align: 'left' } }),
  txt(181, 668, 'hits', '20px ' + SERIF, { rotation: R90, style: { align: 'center' } }),
  txt(720, 669, 'hits', '20px ' + SERIF, { rotation: R90, style: { align: 'center' } }),
  txt(690, 737, 't (\u00b5sec)', '20px ' + SERIF, { style: { align: 'right' } }),
  txt(1231, 738, 'q (ADC)', '20px ' + SERIF, { style: { align: 'right' } })
];

const option = {
  backgroundColor: '#000000',
  animation: false,
  grid: [
    { left: 62, top: 34, width: 1173, height: 277 },
    { left: 62, top: 314, width: 1173, height: 272 },
    { left: 221, top: 654, width: 470, height: 60 },
    { left: 761, top: 654, width: 470, height: 61 }
  ],
  xAxis: xAxes,
  yAxis: yAxes,
  visualMap: [{
    type: 'continuous', show: true, seriesIndex: [12], dimension: 0, min: T_MIN, max: T_MAX,
    orient: 'horizontal', left: 221, top: 708, itemWidth: 6, itemHeight: 470, padding: 0,
    calculable: false, realtime: false, hoverLink: false, text: null, showLabel: false,
    inRange: { color: tPalette }, outOfRange: { color: ['#ffffff'] }
  }],
  series: series,
  graphic: graphic
};
const chart = echarts.init(document.getElementById('c'), null, { renderer: 'canvas' });
chart.setOption(option);
</script>
</body></html>
